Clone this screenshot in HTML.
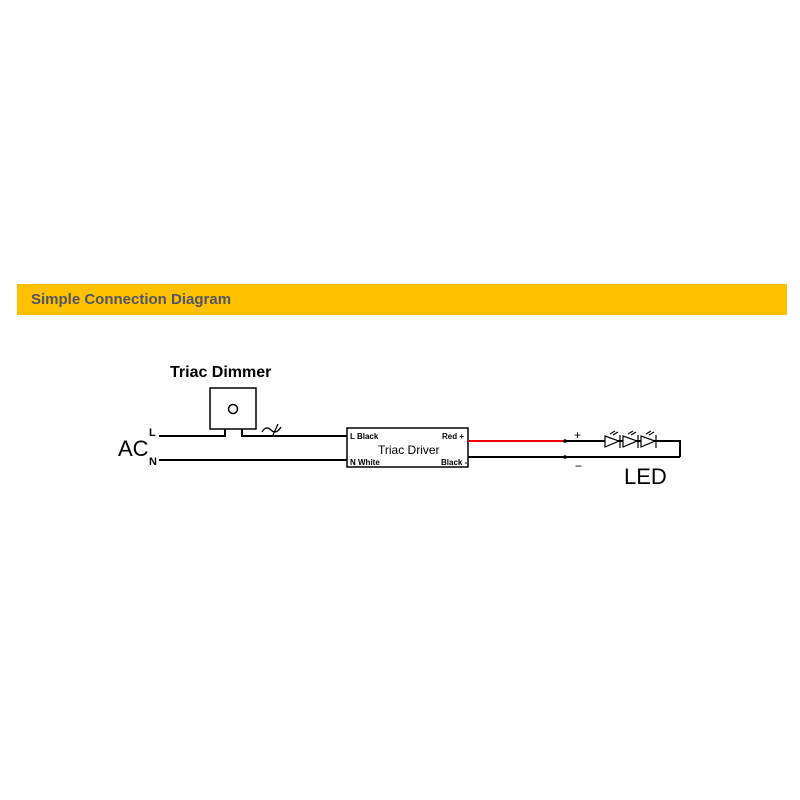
<!DOCTYPE html>
<html><head><meta charset="utf-8"><style>
body{margin:0;width:800px;height:800px;background:#fff;overflow:hidden;position:relative;font-family:"Liberation Sans",sans-serif}
.band{position:absolute;left:17px;top:284px;width:770px;height:31px;background:#FFC000}
.band span{position:absolute;left:14px;top:7px;font-size:15px;font-weight:bold;color:#505468}
</style></head><body>
<div class="band"><span>Simple Connection Diagram</span></div>
<svg width="800" height="800" style="position:absolute;left:0;top:0" font-family="Liberation Sans, sans-serif">
<g stroke="#000" stroke-width="2" fill="none">
<rect x="210" y="388" width="46" height="41" stroke-width="1.5"/>
<circle cx="233" cy="409" r="4.5" stroke-width="1.5"/>
<polyline points="159,436 225,436 225,429"/>
<polyline points="242,429 242,436 347,436"/>
<line x1="159" y1="460" x2="347" y2="460"/>
<path d="M262 432 q4 -7 9 -2 t10 -3" stroke-width="1.3"/>
<line x1="278" y1="424" x2="273" y2="435" stroke-width="1.3"/>
<rect x="347" y="428" width="121" height="39" stroke-width="1.5"/>
<line x1="468" y1="457" x2="680" y2="457"/>
<polyline points="565,441 680,441 680,457"/>
</g>
<line x1="468" y1="441" x2="565" y2="441" stroke="#e00" stroke-width="2"/>
<circle cx="565" cy="441" r="1.8" fill="#000"/><circle cx="565" cy="457" r="1.8" fill="#000"/>
<g stroke="#000" stroke-width="1.2" fill="#fff">
<polygon points="605,436 605,447 619,441"/><line x1="620" y1="435" x2="620" y2="448"/>
<polygon points="623,436 623,447 637,441"/><line x1="638" y1="435" x2="638" y2="448"/>
<polygon points="641,436 641,447 655,441"/><line x1="656" y1="435" x2="656" y2="448"/>
<path d="M610 434 l5 -3 M613 435 l5 -3 M628 434 l5 -3 M631 435 l5 -3 M646 434 l5 -3 M649 435 l5 -3" fill="none"/>
</g>
<g fill="#000">
<text x="170" y="377" font-size="16" font-weight="bold">Triac Dimmer</text>
<text x="118" y="456" font-size="22">AC</text>
<text x="149" y="436" font-size="11" font-weight="bold">L</text>
<text x="149" y="465" font-size="11" font-weight="bold">N</text>
<text x="350" y="439" font-size="8" font-weight="bold">L Black</text>
<text x="350" y="465" font-size="8" font-weight="bold">N White</text>
<text x="378" y="454" font-size="12">Triac Driver</text>
<text x="442" y="439" font-size="8" font-weight="bold">Red +</text>
<text x="441" y="465" font-size="8" font-weight="bold">Black -</text>
<text x="574" y="439" font-size="12">+</text>
<text x="575" y="470" font-size="12">−</text>
<text x="624" y="484" font-size="22">LED</text>
</g>
</svg>
</body></html>
